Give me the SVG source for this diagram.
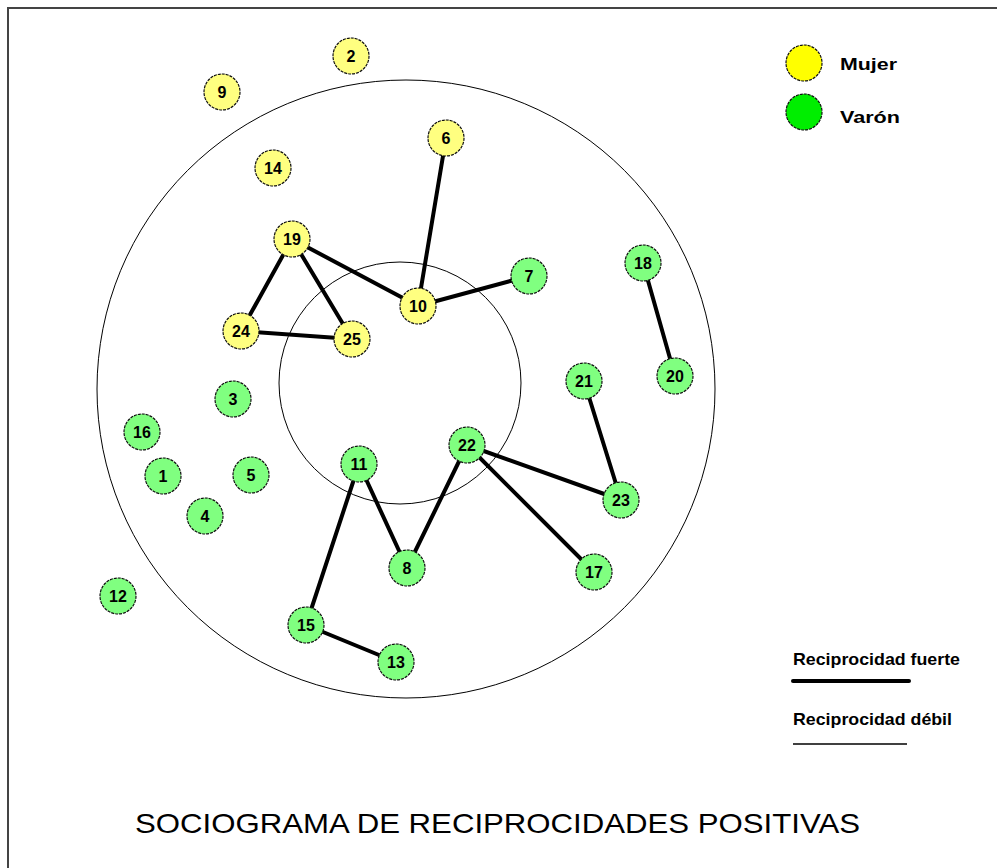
<svg xmlns="http://www.w3.org/2000/svg" width="997" height="868" viewBox="0 0 997 868">
<style>
.n circle{stroke:#111;stroke-width:1.2;stroke-dasharray:3 1}
.f circle{fill:#FFFF80}
.m circle{fill:#80FF80}
.n text{font-family:"Liberation Sans",Arial,sans-serif;font-weight:bold;font-size:16px;text-anchor:middle;fill:#000}
.e line{stroke:#000;stroke-width:4;stroke-linecap:round}
.lg{font-family:"Liberation Sans",Arial,sans-serif;font-weight:bold;font-size:17px;fill:#000}
.ring{fill:none;stroke:#000;stroke-width:1}
</style>
<rect width="997" height="868" fill="#fff"/>
<path d="M8 868 V8 H997" fill="none" stroke="#444" stroke-width="2"/>
<circle class="ring" cx="406" cy="389" r="309"/>
<circle class="ring" cx="400" cy="383" r="121"/>
<g class="e" id="connectors">
<line x1="446" y1="138" x2="418" y2="306"/>
<line x1="292" y1="239" x2="418" y2="306"/>
<line x1="418" y1="306" x2="529" y2="276"/>
<line x1="292" y1="239" x2="241" y2="331"/>
<line x1="292" y1="239" x2="352" y2="339"/>
<line x1="241" y1="331" x2="352" y2="339"/>
<line x1="643" y1="263" x2="675" y2="376"/>
<line x1="584" y1="381" x2="621" y2="500"/>
<line x1="467" y1="445" x2="621" y2="500"/>
<line x1="467" y1="445" x2="594" y2="572"/>
<line x1="467" y1="445" x2="407" y2="568"/>
<line x1="359" y1="464" x2="407" y2="568"/>
<line x1="359" y1="464" x2="306" y2="625"/>
<line x1="306" y1="625" x2="396" y2="662"/>
</g>
<g id="n2" class="n f"><circle cx="351" cy="56" r="18"/><text x="351" y="62">2</text></g>
<g id="n9" class="n f"><circle cx="222" cy="92" r="18"/><text x="222" y="98">9</text></g>
<g id="n14" class="n f"><circle cx="273" cy="168" r="18"/><text x="273" y="174">14</text></g>
<g id="n6" class="n f"><circle cx="446" cy="138" r="18"/><text x="446" y="144">6</text></g>
<g id="n19" class="n f"><circle cx="292" cy="239" r="18"/><text x="292" y="245">19</text></g>
<g id="n10" class="n f"><circle cx="418" cy="306" r="18"/><text x="418" y="312">10</text></g>
<g id="n24" class="n f"><circle cx="241" cy="331" r="18"/><text x="241" y="337">24</text></g>
<g id="n25" class="n f"><circle cx="352" cy="339" r="18"/><text x="352" y="345">25</text></g>
<g id="n7" class="n m"><circle cx="529" cy="276" r="18"/><text x="529" y="282">7</text></g>
<g id="n18" class="n m"><circle cx="643" cy="263" r="18"/><text x="643" y="269">18</text></g>
<g id="n20" class="n m"><circle cx="675" cy="376" r="18"/><text x="675" y="382">20</text></g>
<g id="n21" class="n m"><circle cx="584" cy="381" r="18"/><text x="584" y="387">21</text></g>
<g id="n3" class="n m"><circle cx="233" cy="399" r="18"/><text x="233" y="405">3</text></g>
<g id="n16" class="n m"><circle cx="142" cy="432" r="18"/><text x="142" y="438">16</text></g>
<g id="n1" class="n m"><circle cx="163" cy="476" r="18"/><text x="163" y="482">1</text></g>
<g id="n5" class="n m"><circle cx="251" cy="475" r="18"/><text x="251" y="481">5</text></g>
<g id="n4" class="n m"><circle cx="205" cy="516" r="18"/><text x="205" y="522">4</text></g>
<g id="n11" class="n m"><circle cx="359" cy="464" r="18"/><text x="359" y="470">11</text></g>
<g id="n22" class="n m"><circle cx="467" cy="445" r="18"/><text x="467" y="451">22</text></g>
<g id="n23" class="n m"><circle cx="621" cy="500" r="18"/><text x="621" y="506">23</text></g>
<g id="n8" class="n m"><circle cx="407" cy="568" r="18"/><text x="407" y="574">8</text></g>
<g id="n17" class="n m"><circle cx="594" cy="572" r="18"/><text x="594" y="578">17</text></g>
<g id="n12" class="n m"><circle cx="118" cy="596" r="18"/><text x="118" y="602">12</text></g>
<g id="n15" class="n m"><circle cx="306" cy="625" r="18"/><text x="306" y="631">15</text></g>
<g id="n13" class="n m"><circle cx="396" cy="662" r="18"/><text x="396" y="668">13</text></g>
<g id="legend">
<circle cx="804" cy="63" r="18" fill="#FFFF00" stroke="#111" stroke-width="1.2" stroke-dasharray="3 1"/>
<text class="lg" x="840" y="70" textLength="57" lengthAdjust="spacingAndGlyphs">Mujer</text>
<circle cx="804" cy="112" r="18" fill="#00EE00" stroke="#111" stroke-width="1.2" stroke-dasharray="3 1"/>
<text class="lg" x="840" y="123" textLength="60" lengthAdjust="spacingAndGlyphs">Varón</text>
<text class="lg" x="793" y="665" textLength="167" lengthAdjust="spacingAndGlyphs">Reciprocidad fuerte</text>
<line x1="793" y1="681" x2="909" y2="681" stroke="#000" stroke-width="4" stroke-linecap="round"/>
<text class="lg" x="793" y="725" textLength="159" lengthAdjust="spacingAndGlyphs">Reciprocidad débil</text>
<line x1="793" y1="744" x2="907" y2="744" stroke="#000" stroke-width="1.5"/>
</g>
<text x="135" y="833" font-family="'Liberation Sans',Arial,sans-serif" font-size="28" textLength="725" lengthAdjust="spacingAndGlyphs" fill="#000">SOCIOGRAMA DE RECIPROCIDADES POSITIVAS</text>
</svg>
